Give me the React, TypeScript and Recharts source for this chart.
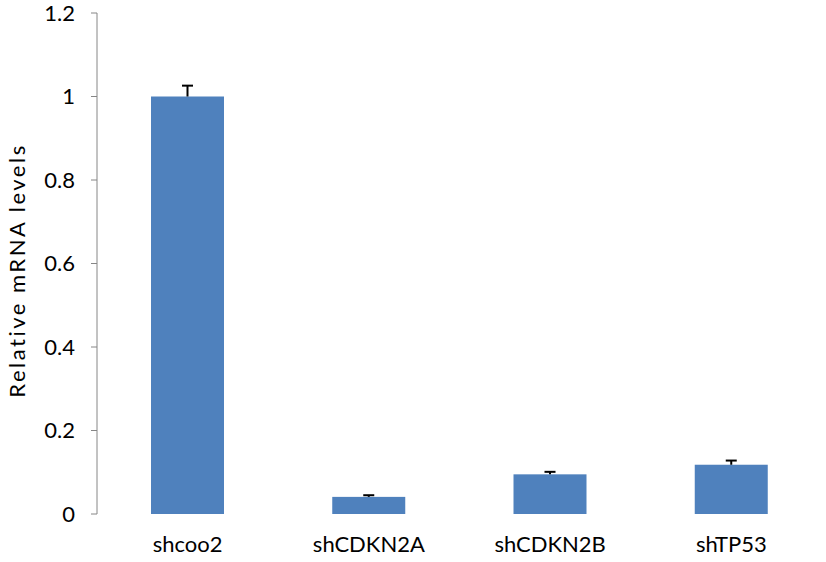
import React from 'react';
import { BarChart, Bar, XAxis, YAxis, Label } from 'recharts';

const categories = ['shcoo2', 'shCDKN2A', 'shCDKN2B', 'shTP53'];
const levels = [1.0, 0.041, 0.095, 0.118];
const errors = [0.026, 0.004, 0.006, 0.01];
const yTicks = [0, 0.2, 0.4, 0.6, 0.8, 1, 1.2];
const boundaryTicks = [0, 1, 2, 3, 4];

const data = categories.map((name, i) => ({
  name,
  value: levels[i],
  err: errors[i],
}));

const font = 'Lato, "Open Sans", sans-serif';
const axisGray = '#868686';

// bar plus an upper-only error whisker, scaled from the bar's own pixel height
const BarWithError = (props: any) => {
  const { x, y, width, height, payload, fill } = props;
  const perUnit = payload.value ? height / payload.value : 0;
  const top = y - payload.err * perUnit;
  const cx = x + width / 2;
  return (
    <g>
      <rect x={x} y={y} width={width} height={height} fill={fill} />
      <line x1={cx} y1={y} x2={cx} y2={top} stroke="#000" strokeWidth={2} />
      <line x1={cx - 5.5} y1={top} x2={cx + 5.5} y2={top} stroke="#000" strokeWidth={2} />
    </g>
  );
};

export default function App() {
  return (
    <div style={{ position: 'absolute', left: 0, top: 0, background: '#fff' }}>
      <BarChart
        width={826}
        height={562}
        data={data}
        margin={{ top: 13, right: 4, bottom: 0, left: 0 }}
        style={{ fontFamily: font }}
      >
        <XAxis
          xAxisId="grid"
          type="number"
          domain={[0, 4]}
          ticks={boundaryTicks}
          tick={false}
          height={0}
          axisLine={{ stroke: axisGray }}
          tickLine={{ stroke: axisGray }}
          tickSize={7}
        />
        <XAxis
          xAxisId="cat"
          dataKey="name"
          height={48}
          axisLine={false}
          tickLine={false}
          tickMargin={16}
          fontSize={22}
          tick={{ fontSize: 22, fill: '#000', fontFamily: font }}
        />
        <YAxis
          width={97}
          domain={[0, 1.2]}
          ticks={yTicks}
          interval={0}
          axisLine={{ stroke: axisGray }}
          tickLine={{ stroke: axisGray }}
          tickSize={6}
          tickMargin={16}
          fontSize={22}
          tickFormatter={(v: number) => String(v)}
          tick={{ fontSize: 22, fill: '#000', fontFamily: font }}
        >
          <Label
            content={(p: any) => {
              const vb = p.viewBox;
              const cx = 16;
              const cy = vb.y + vb.height / 2 + 7;
              return (
                <text
                  x={cx}
                  y={cy}
                  transform={`rotate(-90 ${cx} ${cy})`}
                  textAnchor="middle"
                  dominantBaseline="central"
                  fontSize={22}
                  letterSpacing={2.5}
                  fontFamily={font}
                  fill="#000"
                >
                  Relative mRNA levels
                </text>
              );
            }}
          />
        </YAxis>
        <Bar
          xAxisId="cat"
          dataKey="value"
          fill="#4f81bd"
          barSize={73}
          isAnimationActive={false}
          shape={BarWithError}
        />
      </BarChart>
    </div>
  );
}
